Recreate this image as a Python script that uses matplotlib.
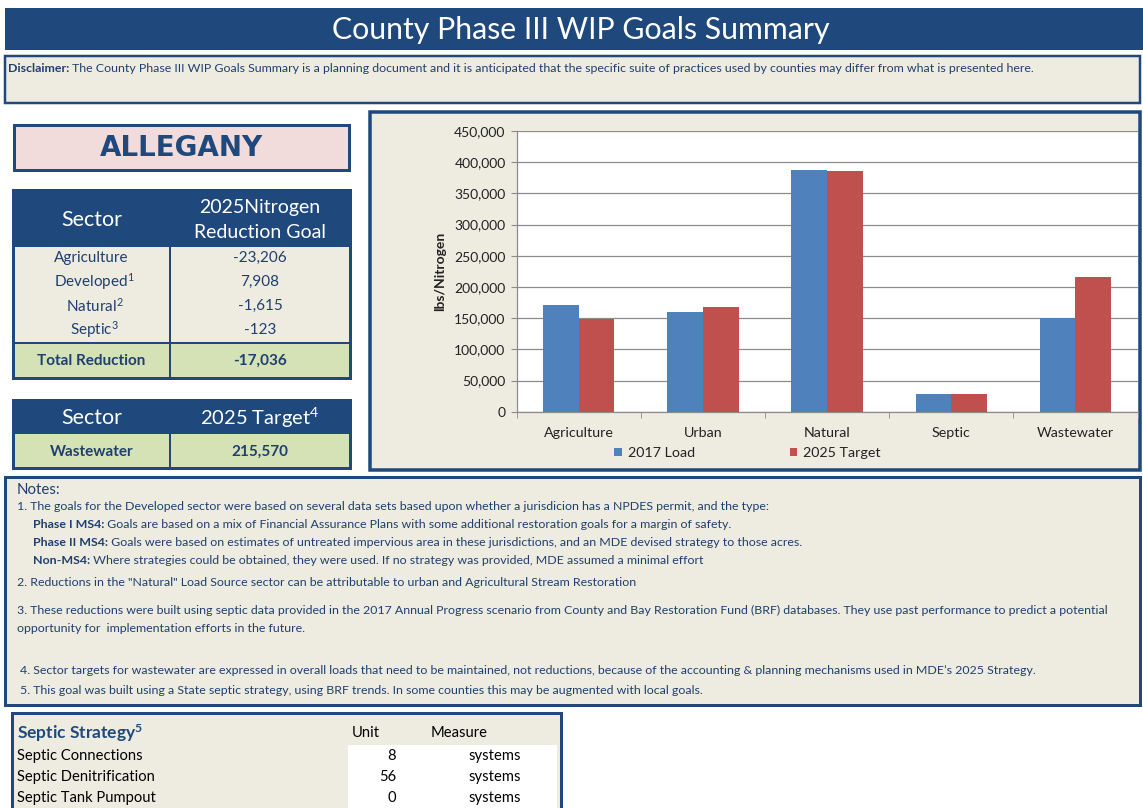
import matplotlib
matplotlib.use('Agg')
import matplotlib.pyplot as plt
from matplotlib.patches import Rectangle, Patch
from matplotlib.ticker import FuncFormatter, MultipleLocator, FixedLocator
import numpy as np

plt.rcParams['font.family'] = ['Lato', 'DejaVu Sans']
plt.rcParams['mathtext.fontset'] = 'custom'
plt.rcParams['mathtext.rm'] = 'Lato'
plt.rcParams['mathtext.it'] = 'Lato'
plt.rcParams['mathtext.bf'] = 'Lato:bold'

# ---------------- data ----------------
title = "County Phase III WIP Goals Summary"
county = "ALLEGANY"

categories = ['Agriculture', 'Urban', 'Natural', 'Septic', 'Wastewater']
load_2017 = [171200, 159300, 387300, 28400, 150700]
target_2025 = [148000, 167200, 385700, 28300, 215570]
series_names = ['2017 Load', '2025 Target']
y_label = 'lbs/Nitrogen'

sectors = ['Agriculture', 'Developed', 'Natural', 'Septic']
sector_notes = ['', '1', '2', '3']
reduction_goals = [-23206, 7908, -1615, -123]
total_reduction = -17036
wastewater_target = 215570

septic_practices = ['Septic Connections', 'Septic Denitrification', 'Septic Tank Pumpout']
septic_units = [8, 56, 0]
septic_measures = ['systems', 'systems', 'systems']

disclaimer_bold = "Disclaimer:"
disclaimer_text = (" The County Phase III WIP Goals Summary is a planning document and it is anticipated "
                   "that the specific suite of practices used by counties may differ from what is presented here.")
note1 = ("1. The goals for the Developed sector were based on several data sets based upon whether a "
         "jurisdicion has a NPDES permit, and the type:")
note1_items = [
    ("Phase I MS4:", " Goals are based on a mix of Financial Assurance Plans with some additional restoration goals for a margin of safety."),
    ("Phase II MS4:", " Goals were based on estimates of untreated impervious area in these jurisdictions, and an MDE devised strategy to those acres."),
    ("Non-MS4:", " Where strategies could be obtained, they were used. If no strategy was provided, MDE assumed a minimal effort"),
]
note2 = '2. Reductions in the "Natural" Load Source sector can be attributable to urban and Agricultural Stream Restoration'
note3 = ["3. These reductions were built using septic data provided in the 2017 Annual Progress scenario from County and "
         "Bay Restoration Fund (BRF) databases. They use past performance to predict a potential",
         "opportunity for  implementation efforts in the future."]
note4 = ("4. Sector targets for wastewater are expressed in overall loads that need to be maintained, not reductions, "
         "because of the accounting & planning mechanisms used in MDE\u2019s 2025 Strategy.")
note5 = "5. This goal was built using a State septic strategy, using BRF trends. In some counties this may be augmented with local goals."

# ---------------- styles ----------------
NAVY = '#1F497D'
BEIGE = '#EEECE1'
PINK = '#F2DCDB'
GREEN = '#D4E2B6'
TXT = '#1F3F6E'
BLUE = '#4F81BD'
RED = '#C0504D'

W, H = 1143, 808
fig = plt.figure(figsize=(W / 100, H / 100), dpi=100)
fig.patch.set_facecolor('white')
bg = fig.add_axes([0, 0, 1, 1])
bg.set_xlim(0, W)
bg.set_ylim(H, 0)
bg.axis('off')

PX = 0.72  # points per pixel


def box(x0, y0, x1, y1, fc, ec='none', lw=0, z=1):
    bg.add_patch(Rectangle((x0, y0), x1 - x0, y1 - y0, facecolor=fc, edgecolor=ec,
                           linewidth=lw * PX, zorder=z))


def line(x0, y0, x1, y1, c=NAVY, lw=2, z=3):
    bg.plot([x0, x1], [y0, y1], color=c, linewidth=lw * PX, zorder=z, solid_capstyle='butt')


def fmt(v):
    return f"{v:,}"


# title bar
box(5, 8, 1143, 50, NAVY)
bg.text(581, 30, title, color='white', fontsize=21.8, ha='center', va='center', zorder=5)

# disclaimer
DFS = 8.9
box(5, 56, 1140, 103, BEIGE, NAVY, 2.5)
t = bg.text(8, 68, disclaimer_bold, fontsize=DFS, fontweight='bold', color=TXT, ha='left', va='center', zorder=5)
bg.annotate(disclaimer_text, xy=(1, 0), xycoords=t, fontsize=DFS, color=TXT, ha='left', va='bottom', zorder=5)

# county box
box(14, 125, 349, 170, PINK, NAVY, 3)
bg.text(181, 148, county, fontsize=20, fontweight='heavy', color=NAVY, ha='center', va='center',
        family=['DejaVu Sans'], zorder=5)

# table 1
X0, XM, X1 = 13, 170, 350
BFS = 11
box(X0, 190, X1, 246, NAVY)
box(X0, 246, X1, 343, BEIGE)
box(X0, 343, X1, 378, GREEN)
box(X0, 190, X1, 378, 'none', NAVY, 3, z=4)
line(XM, 246, XM, 378)
line(X0, 343, X1, 343)
line(X0, 246, X1, 246)
bg.text((X0 + XM) / 2, 220, 'Sector', fontsize=15.5, color='white', ha='center', va='center', zorder=5)
bg.text((XM + X1) / 2, 207, '2025Nitrogen', fontsize=14, color='white', ha='center', va='center', zorder=5)
bg.text((XM + X1) / 2, 233, 'Reduction Goal', fontsize=14, color='white', ha='center', va='center', zorder=5)
row_y = [258, 282, 306, 330]
for s, n, g, y in zip(sectors, sector_notes, reduction_goals, row_y):
    lab = s + (r'$^{' + n + '}$' if n else '')
    bg.text((X0 + XM) / 2 + (3 if n else 0), y, lab, fontsize=BFS, color=TXT, ha='center', va='center', zorder=5)
    bg.text((XM + X1) / 2, y, fmt(g), fontsize=BFS, color=TXT, ha='center', va='center', zorder=5)
bg.text((X0 + XM) / 2, 361, 'Total Reduction', fontsize=BFS, fontweight='bold', color=TXT,
        ha='center', va='center', zorder=5)
bg.text((XM + X1) / 2, 361, fmt(total_reduction), fontsize=BFS, fontweight='bold', color=TXT,
        ha='center', va='center', zorder=5)

# table 2
box(X0, 400, X1, 433, NAVY)
box(X0, 433, X1, 468, GREEN)
box(X0, 400, X1, 468, 'none', NAVY, 3, z=4)
line(XM, 400, XM, 468)
line(X0, 433, X1, 433)
bg.text((X0 + XM) / 2, 418, 'Sector', fontsize=15.5, color='white', ha='center', va='center', zorder=5)
bg.text((XM + X1) / 2, 418, r'2025 Target$^{4}$', fontsize=14.5, color='white', ha='center', va='center', zorder=5)
bg.text((X0 + XM) / 2, 452, 'Wastewater', fontsize=BFS, fontweight='bold', color=TXT,
        ha='center', va='center', zorder=5)
bg.text((XM + X1) / 2, 452, fmt(wastewater_target), fontsize=BFS, fontweight='bold', color=TXT,
        ha='center', va='center', zorder=5)

# chart box
box(370, 112, 1140, 470, BEIGE, NAVY, 3.5)

# notes box
box(5, 477, 1140, 705, BEIGE, NAVY, 3)
NFS = 8.9
bg.text(17, 490, 'Notes:', fontsize=10.8, color=TXT, ha='left', va='center', zorder=5)
bg.text(17, 507, note1, fontsize=NFS, color=TXT, ha='left', va='center', zorder=5)
for (b, rest), y in zip(note1_items, [524, 542, 560]):
    t = bg.text(33, y, b, fontsize=NFS, fontweight='bold', color=TXT, ha='left', va='center', zorder=5)
    bg.annotate(rest, xy=(1, 0), xycoords=t, fontsize=NFS, color=TXT, ha='left', va='bottom', zorder=5)
bg.text(17, 583, note2, fontsize=NFS, color=TXT, ha='left', va='center', zorder=5)
bg.text(17, 610, note3[0], fontsize=NFS, color=TXT, ha='left', va='center', zorder=5)
bg.text(17, 629, note3[1], fontsize=NFS, color=TXT, ha='left', va='center', zorder=5)
bg.text(20, 670, note4, fontsize=NFS, color=TXT, ha='left', va='center', zorder=5)
bg.text(20, 691, note5, fontsize=NFS, color=TXT, ha='left', va='center', zorder=5)

# septic strategy box
SFS = 10.6
box(12, 713, 561, 812, BEIGE, NAVY, 3)
box(348, 745, 557, 812, 'white', z=2)
bg.text(17, 733, r'Septic Strategy$^{\mathbf{5}}$', fontsize=12.5, fontweight='bold', color=NAVY,
        ha='left', va='center', zorder=5)
bg.text(352, 733, 'Unit', fontsize=SFS, color='black', ha='left', va='center', zorder=5)
bg.text(431, 733, 'Measure', fontsize=SFS, color='black', ha='left', va='center', zorder=5)
for p, u, m, y in zip(septic_practices, septic_units, septic_measures, [756, 777, 798]):
    bg.text(17, y, p, fontsize=SFS, color='black', ha='left', va='center', zorder=5)
    bg.text(396, y, str(u), fontsize=SFS, color='black', ha='right', va='center', zorder=5)
    bg.text(521, y, m, fontsize=SFS, color='black', ha='right', va='center', zorder=5)

# ---------------- bar chart ----------------
L, R, T, B = 516.7, 1137.5, 131.0, 411.7
ax = fig.add_axes([L / W, 1 - B / H, (R - L) / W, (B - T) / H])
ax.set_facecolor('white')
x = np.arange(len(categories))
bw = 0.287
ax.bar(x - bw / 2, load_2017, width=bw, color=BLUE, label=series_names[0], zorder=3)
ax.bar(x + bw / 2, target_2025, width=bw, color=RED, label=series_names[1], zorder=3)
ax.set_xlim(-0.5, len(categories) - 0.5)
ax.set_ylim(0, 450000)
ax.yaxis.set_major_locator(MultipleLocator(50000))
ax.yaxis.set_major_formatter(FuncFormatter(lambda v, p: f"{v:,.0f}"))
ax.grid(axis='y', color='#8C8C8C', linewidth=0.9, zorder=0)
ax.set_axisbelow(True)
ax.set_xticks(x)
ax.set_xticklabels(categories)
ax.xaxis.set_minor_locator(FixedLocator(np.arange(-0.5, len(categories), 1.0)))
ax.tick_params(axis='x', which='major', length=0, pad=11, labelsize=10.3, labelcolor='#222222')
ax.tick_params(axis='x', which='minor', length=4, color='#8C8C8C', direction='out')
ax.tick_params(axis='y', length=4, color='#8C8C8C', labelsize=10, labelcolor='#222222', pad=4)
for s in ['top', 'right']:
    ax.spines[s].set_visible(False)
for s in ['left', 'bottom']:
    ax.spines[s].set_color('#8C8C8C')
    ax.spines[s].set_linewidth(0.9)
ax.set_ylabel(y_label, fontsize=10, fontweight='bold', color='#222222', labelpad=6)
handles = [Patch(facecolor=BLUE, label=series_names[0]), Patch(facecolor=RED, label=series_names[1])]
ax.legend(handles=handles, loc='center', bbox_to_anchor=(0.372, -0.147), ncol=2, frameon=False,
          fontsize=10.3, handlelength=0.55, handleheight=0.55, handletextpad=0.4, columnspacing=6.6,
          labelcolor='#222222')

fig.savefig('out.png', dpi=100, facecolor='white')
